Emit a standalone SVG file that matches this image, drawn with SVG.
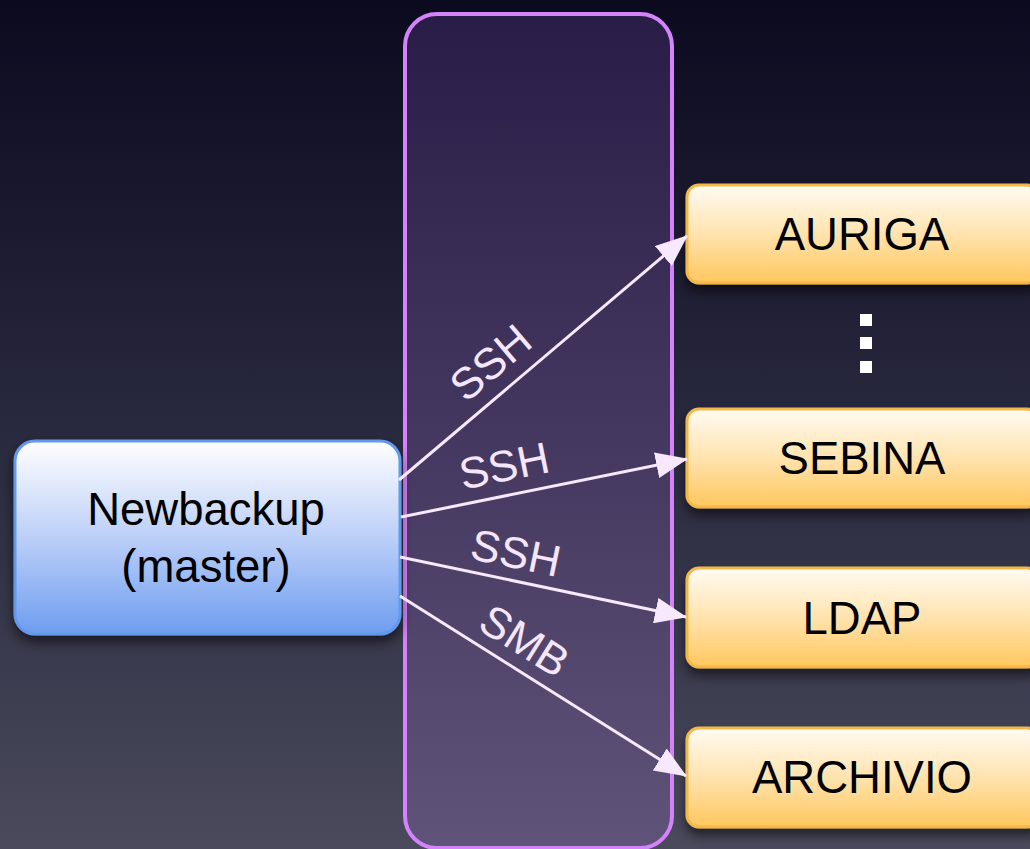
<svg xmlns="http://www.w3.org/2000/svg" width="1030" height="849" viewBox="0 0 1030 849">
<defs>
<linearGradient id="bg" x1="0" y1="0" x2="0" y2="1">
<stop offset="0" stop-color="#0b0a1f"/>
<stop offset="0.5" stop-color="#28283e"/>
<stop offset="1" stop-color="#4a4a5c"/>
</linearGradient>
<linearGradient id="cont" x1="0" y1="0" x2="0" y2="1">
<stop offset="0" stop-color="#291c46"/>
<stop offset="1" stop-color="#5f5379"/>
</linearGradient>
<linearGradient id="blue" x1="0" y1="0" x2="0" y2="1">
<stop offset="0" stop-color="#ffffff"/>
<stop offset="0.5" stop-color="#bccff8"/>
<stop offset="1" stop-color="#6e9df0"/>
</linearGradient>
<linearGradient id="orange" x1="0" y1="0" x2="0" y2="1">
<stop offset="0" stop-color="#fffbf3"/>
<stop offset="0.5" stop-color="#ffe3ae"/>
<stop offset="1" stop-color="#ffc75e"/>
</linearGradient>
<filter id="shadow" x="-20%" y="-30%" width="140%" height="170%">
<feDropShadow dx="0" dy="7" stdDeviation="6" flood-color="#000" flood-opacity="0.55"/>
</filter>
<marker id="arrow" viewBox="0 0 32 26" refX="31" refY="13" markerWidth="32" markerHeight="26" markerUnits="userSpaceOnUse" orient="auto">
<path d="M0,0 L32,13 L0,26 Z" fill="#f7e8fd"/>
</marker>
<style>
.txt{font-family:"Liberation Sans",Arial,sans-serif;font-size:45.5px;fill:#000;text-anchor:middle}
.lbl{font-family:"Liberation Sans",Arial,sans-serif;font-size:44px;fill:#f6e6fd;text-anchor:middle}
.srv{fill:url(#orange);stroke:#f4b848;stroke-width:3;filter:url(#shadow)}
.conn{stroke:#f7e8fd;stroke-width:3;fill:none;marker-end:url(#arrow)}
</style>
</defs>
<rect x="0" y="0" width="1030" height="849" fill="url(#bg)"/>
<g id="network">
<rect x="405" y="14" width="267" height="834" rx="32" ry="32" fill="url(#cont)" stroke="#d583fb" stroke-width="4"/>
</g>
<g id="newbackup">
<rect x="15" y="441" width="385" height="193" rx="20" ry="20" fill="url(#blue)" stroke="#6399ea" stroke-width="3" filter="url(#shadow)"/>
<text class="txt" x="206" y="525">Newbackup</text>
<text class="txt" x="206" y="582">(master)</text>
</g>
<g id="auriga">
<rect class="srv" x="687" y="185" width="352" height="98" rx="12" ry="12"/>
<text class="txt" x="862" y="250">AURIGA</text>
</g>
<g id="dots">
<rect x="860" y="314" width="12" height="12" fill="#ffffff"/>
<rect x="860" y="337" width="12" height="12" fill="#ffffff"/>
<rect x="860" y="361" width="12" height="12" fill="#ffffff"/>
</g>
<g id="sebina">
<rect class="srv" x="687" y="409" width="352" height="98" rx="12" ry="12"/>
<text class="txt" x="862" y="474">SEBINA</text>
</g>
<g id="ldap">
<rect class="srv" x="687" y="568" width="352" height="99" rx="12" ry="12"/>
<text class="txt" x="862" y="634">LDAP</text>
</g>
<g id="archivio">
<rect class="srv" x="687" y="728" width="352" height="99" rx="12" ry="12"/>
<text class="txt" x="862" y="793">ARCHIVIO</text>
</g>
<g id="connectors">
<line class="conn" x1="399" y1="480" x2="687" y2="236"/>
<line class="conn" x1="401" y1="517" x2="687" y2="459"/>
<line class="conn" x1="400" y1="557" x2="686" y2="617"/>
<line class="conn" x1="400" y1="596" x2="686" y2="776"/>
<text class="lbl" transform="translate(490,362) rotate(-40.4)" x="0" y="16">SSH</text>
<text class="lbl" transform="translate(504,465) rotate(-11.5)" x="0" y="16">SSH</text>
<text class="lbl" transform="translate(516,552) rotate(11.8)" x="0" y="16">SSH</text>
<text class="lbl" transform="translate(525,640) rotate(32.1)" x="0" y="16">SMB</text>
</g>
</svg>
